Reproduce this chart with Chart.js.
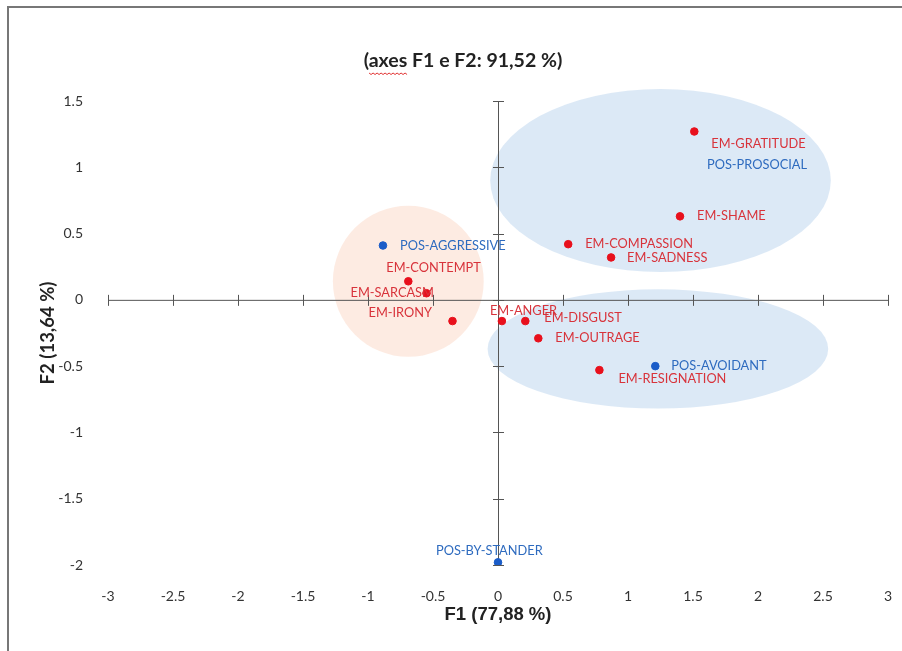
<!DOCTYPE html>
<html>
<head>
<meta charset="utf-8">
<script src="https://cdn.jsdelivr.net/npm/chart.js@4.4.1/dist/chart.umd.min.js"></script>
<style>
  html, body { margin: 0; padding: 0; background: #fff; }
  #wrap { position: relative; width: 902px; height: 651px; }
  #frame { position: absolute; left: 7px; top: 6px; right: 0; bottom: 0;
           border-left: 2px solid #777; border-top: 2px solid #777; pointer-events: none; }
</style>
</head>
<body>
<div id="wrap">
  <canvas id="myChart" width="902" height="651"></canvas>
  <div id="frame"></div>
</div>
<script>
// emotions (red)
const emLabels = ["EM-GRATITUDE","EM-SHAME","EM-COMPASSION","EM-SADNESS","EM-CONTEMPT","EM-SARCASM","EM-IRONY","EM-ANGER","EM-DISGUST","EM-OUTRAGE","EM-RESIGNATION"];
const emF1 = [1.51, 1.40, 0.54, 0.87, -0.69, -0.55, -0.35, 0.03, 0.21, 0.31, 0.78];
const emF2 = [1.27, 0.63, 0.42, 0.32, 0.14, 0.05, -0.16, -0.16, -0.16, -0.29, -0.53];

// positions (blue)
const posLabels = ["POS-PROSOCIAL","POS-AGGRESSIVE","POS-AVOIDANT","POS-BY-STANDER"];
const posF1 = [1.50, -0.885, 1.21, 0.00];
const posF2 = [1.02, 0.41, -0.50, -1.98];

// groups drawn as shaded ellipses: centre and radii in axis units
const groupCx = [1.25, 1.23, -0.69];
const groupCy = [0.90, -0.37, 0.14];
const groupRx = [1.31, 1.31, 0.58];
const groupRy = [0.69, 0.45, 0.57];
const groupColors = ["rgba(218,232,246,0.95)", "rgba(218,232,246,0.95)", "rgba(253,234,224,0.95)"];

// label offsets in pixels [dx, dy] from the point
const emOffsets = [[17,12],[17,0],[17,0],[16,0],[-22,-13],[-76,0],[-84,-8],[-12,-10],[19,-3],[17,0],[19,9]];
const posOffsets = [[14,0],[17,0],[16,0],[-62,-11]];

const xTicks = [-3,-2.5,-2,-1.5,-1,-0.5,0,0.5,1,1.5,2,2.5,3];
const yTicks = [-2,-1.5,-1,-0.5,0,0.5,1,1.5];

const RED = "#e8101c", RED_TXT = "#d8333b", BLUE = "#1a5cc8", BLUE_TXT = "#2e6bbf";

function toPoints(xs, ys){
  return xs.map((x,i)=>({x:x, y:ys[i]}));
}

const ellipsePlugin = {
  id: "ellipses",
  beforeDatasetsDraw(chart){
    const {ctx, scales:{x, y}} = chart;
    ctx.save();
    for(let i=0;i<groupCx.length;i++){
      const cx = x.getPixelForValue(groupCx[i]);
      const cy = y.getPixelForValue(groupCy[i]);
      const rx = Math.abs(x.getPixelForValue(groupCx[i]+groupRx[i]) - cx);
      const ry = Math.abs(y.getPixelForValue(groupCy[i]+groupRy[i]) - cy);
      ctx.beginPath();
      ctx.ellipse(cx, cy, rx, ry, 0, 0, Math.PI*2);
      ctx.fillStyle = groupColors[i];
      ctx.fill();
    }
    // crossing axes with tick marks
    const x0 = x.getPixelForValue(0), y0 = y.getPixelForValue(0);
    ctx.strokeStyle = "#555";
    ctx.lineWidth = 1;
    ctx.beginPath();
    ctx.moveTo(x.left, y0+0.5); ctx.lineTo(x.right, y0+0.5);
    ctx.moveTo(x0+0.5, y.top); ctx.lineTo(x0+0.5, y.bottom);
    for(const t of xTicks){
      const px = Math.round(x.getPixelForValue(t))+0.5;
      ctx.moveTo(px, y0-5); ctx.lineTo(px, y0+6);
    }
    for(const t of yTicks){
      const py = Math.round(y.getPixelForValue(t))+0.5;
      ctx.moveTo(x0-5, py); ctx.lineTo(x0+6, py);
    }
    ctx.stroke();
    ctx.restore();
  },
  afterDatasetsDraw(chart){
    const {ctx} = chart;
    ctx.save();
    ctx.font = "12.8px Lato";
    ctx.textBaseline = "middle";
    ctx.textAlign = "left";
    const sets = [[0, emLabels, emOffsets, RED_TXT],[1, posLabels, posOffsets, BLUE_TXT]];
    for(const [di, names, offs, col] of sets){
      const meta = chart.getDatasetMeta(di);
      meta.data.forEach((el,i)=>{
        ctx.fillStyle = col;
        ctx.fillText(names[i], el.x + offs[i][0], el.y + offs[i][1]);
      });
    }
    // title
    ctx.font = "bold 19.5px Lato";
    ctx.fillStyle = "#222";
    ctx.textAlign = "center";
    const tx = 463, ty = 61;
    ctx.fillText("(axes F1 e F2: 91,52 %)", tx, ty);
    // spell-check squiggle under "axes"
    const w = ctx.measureText("(axes F1 e F2: 91,52 %)").width;
    const sx = tx - w/2 + ctx.measureText("(").width;
    const ex = sx + ctx.measureText("axes").width;
    ctx.strokeStyle = "#e03030";
    ctx.lineWidth = 1;
    ctx.beginPath();
    for(let px=sx, k=0; px<=ex; px+=2, k++){
      const py = ty + 12 + (k%2 ? 1.5 : 0);
      if(k===0) ctx.moveTo(px,py); else ctx.lineTo(px,py);
    }
    ctx.stroke();
    ctx.restore();
  }
};

const ctx = document.getElementById("myChart");
const myChart = new Chart(ctx, {
  type: "scatter",
  data: {
    datasets: [
      { label: "EM", data: toPoints(emF1, emF2), backgroundColor: RED, borderColor: RED,
        pointRadius: 3.8, pointHoverRadius: 3.8 },
      { label: "POS", data: toPoints(posF1, posF2), backgroundColor: BLUE, borderColor: BLUE,
        pointRadius: [0, 3.8, 3.8, 3.8], pointHoverRadius: 3.8 }
    ]
  },
  options: {
    responsive: false,
    animation: false,
    layout: { padding: { top: 101, right: 14, left: 0, bottom: 0 } },
    plugins: { legend: { display: false }, tooltip: { enabled: false }, title: { display: false } },
    scales: {
      x: {
        type: "linear", min: -3, max: 3,
        afterBuildTicks: (s)=>{ s.ticks = xTicks.map(v=>({value:v})); },
        afterFit: (s)=>{ s.height = 86; s.paddingLeft = 0; s.paddingRight = 0; },
        grid: { display: false },
        border: { display: false },
        ticks: { padding: 15, color: "#333", font: { family: "Lato", size: 14 }, callback: v=>String(v) },
        title: { display: true, text: "F1 (77,88 %)", color: "#222",
                 font: { family: "Liberation Sans Narrow, Liberation Sans", size: 18.5, weight: "bold" },
                 padding: { top: 0, bottom: 25 } }
      },
      y: {
        type: "linear", min: -2, max: 1.5,
        afterBuildTicks: (s)=>{ s.ticks = yTicks.map(v=>({value:v})); },
        afterFit: (s)=>{ s.width = 108; s.paddingTop = 0; s.paddingBottom = 0; },
        grid: { display: false },
        border: { display: false },
        ticks: { padding: 17, color: "#333", font: { family: "Lato", size: 14 }, callback: v=>String(v) },
        title: { display: true, text: "F2 (13,64 %)", color: "#222",
                 font: { family: "Lato", size: 18.5, weight: "bold" },
                 padding: { top: 37, bottom: 0 } }
      }
    }
  },
  plugins: [ellipsePlugin]
});
</script>
</body>
</html>
